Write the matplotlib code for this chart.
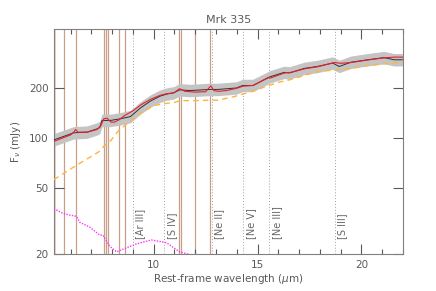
import matplotlib
matplotlib.use("Agg")
import matplotlib.pyplot as plt
import numpy as np
from matplotlib.ticker import FixedLocator, MultipleLocator, NullFormatter

# ---- data ----
obs_wave = [5.19, 6.15, 6.79, 7.27, 7.40, 7.51, 7.92, 8.40, 8.88, 9.36, 9.84, 10.32,
            10.64, 10.96, 11.25, 11.73, 12.69, 13.08, 13.98, 14.28, 14.77, 15.48,
            15.58, 16.28, 16.54, 17.25, 17.88, 18.61, 18.93, 19.49, 20.29, 21.09,
            21.57, 21.97]
obs_flux = [97, 107, 108, 113, 115, 127, 127, 130, 134, 151, 166, 178,
            183, 186, 194, 192, 195, 195, 199, 206, 206, 228,
            232, 247, 245, 261, 268, 281, 268, 284, 294, 303,
            294, 294]

model_wave = [5.19, 6.0, 6.15, 6.24, 6.35, 6.8, 7.27, 7.45, 7.6, 7.75, 7.95, 8.1, 8.33,
              8.6, 9.0, 9.36, 9.84, 10.32, 10.64, 10.96, 11.25, 11.5, 12.0, 12.5,
              12.75, 12.9, 13.1, 13.5, 13.98, 14.3, 14.8, 15.5, 15.6, 16.3, 16.6,
              17.3, 17.9, 18.7, 19.0, 19.5, 20.3, 21.1, 21.6, 22.0]
model_flux = [95, 104, 108, 112, 108, 108, 112, 118, 130, 131, 124, 124, 128,
              136, 145, 157, 170, 180, 184, 186, 197, 190, 188, 189,
              205, 192, 190, 192, 198, 204, 206, 230, 228, 245, 247,
              260, 267, 283, 280, 283, 293, 302, 305, 305]

cont_wave = [5.19, 6.5, 7.2, 7.4, 7.6, 7.9, 8.3, 9.0, 9.5, 10.0, 10.5, 11.0, 11.25,
             12.0, 12.7, 13.1, 13.9, 14.3, 15.0, 15.5, 16.0, 16.5, 17.9, 18.7,
             19.5, 20.3, 21.1, 22.0]
cont_flux = [56, 71, 80, 83, 89, 95, 110, 130, 144, 156, 160, 163, 167,
             167, 168, 168, 177, 183, 195, 205, 215, 222, 250, 255,
             261, 272, 278, 284]

mag_wave = [5.19, 5.55, 5.80, 6.28, 6.44, 6.92, 7.40, 7.55, 7.88, 8.21, 8.69, 9.17,
            9.89, 10.61, 11.25, 11.65, 12.0]
mag_flux = [37.5, 35.5, 34.6, 33.7, 31.0, 29.0, 26.0, 26.0, 22.3, 20.6, 21.8, 23.0,
            24.3, 23.4, 20.6, 20.0, 19.0]

pah_lines = [5.69, 6.24, 7.61, 7.69, 7.82, 8.33, 8.62, 11.22, 11.30, 11.99, 12.73]
ion_lines = [8.99, 10.51, 12.81, 14.32, 15.56, 18.71]
ion_labels = ["[Ar III]", "[S IV]", "[Ne II]", "[Ne V]", "[Ne III]", "[S III]"]

title = "Mrk 335"

# ---- plot ----
fig = plt.figure(figsize=(4.36, 2.91), dpi=100)
ax = fig.add_axes([0.1239, 0.1271, 0.8004, 0.7732])
grey = "#5a5a5a"

ax.axvspan(5.2, 5.31, color="#ecd3c6", lw=0, zorder=0)
for w in pah_lines:
    ax.axvline(w, color="#c8a08a", lw=0.9, zorder=1)
for w, lab in zip(ion_lines, ion_labels):
    ax.axvline(w, color="#a0a0a0", lw=0.7, ls=(0, (1, 2)), zorder=1)
    ax.text(w + 0.12, 24.5, lab, rotation=90, ha="left", va="bottom",
            fontsize=7, color="#666666", zorder=2)

ow = np.array(obs_wave)
of = np.array(obs_flux)
ax.fill_between(ow, of / 1.09, of * 1.09, color="#c4c4c4", lw=0, zorder=2)
ax.plot(ow, of, color="#303030", lw=0.7, zorder=4)
ax.plot(model_wave, model_flux, color="#e8202a", lw=0.8, zorder=5)
ax.plot(cont_wave, cont_flux, color="#ffb43c", lw=1.0, ls=(0, (4, 3)), zorder=3)
ax.plot(mag_wave, mag_flux, color="#ff33ff", lw=1.0, ls=(0, (1, 1)), zorder=3)

ax.set_yscale("log")
ax.set_xlim(5.2, 22)
ax.set_ylim(20, 450)
ax.yaxis.set_major_locator(FixedLocator([20, 50, 100, 200]))
ax.yaxis.set_minor_locator(FixedLocator([]))
ax.set_yticklabels(["20", "50", "100", "200"])
ax.yaxis.set_minor_formatter(NullFormatter())
ax.xaxis.set_major_locator(MultipleLocator(5))
ax.xaxis.set_minor_locator(MultipleLocator(1))

ax.tick_params(which="both", direction="in", top=True, right=True, colors=grey,
               labelsize=7.5, width=0.8)
ax.tick_params(which="major", length=7, pad=4)
ax.tick_params(which="minor", length=3.5)
for s in ax.spines.values():
    s.set_color("#808080")
    s.set_linewidth(0.8)

ax.set_xlabel("Rest-frame wavelength ($\\mu$m)", fontsize=7.5, color=grey, labelpad=2)
ax.set_ylabel("F$_\\nu$ (mJy)", fontsize=7.5, color=grey, labelpad=4)
ax.set_title(title, fontsize=8, color=grey, pad=4)

fig.savefig("out.png", dpi=100)
